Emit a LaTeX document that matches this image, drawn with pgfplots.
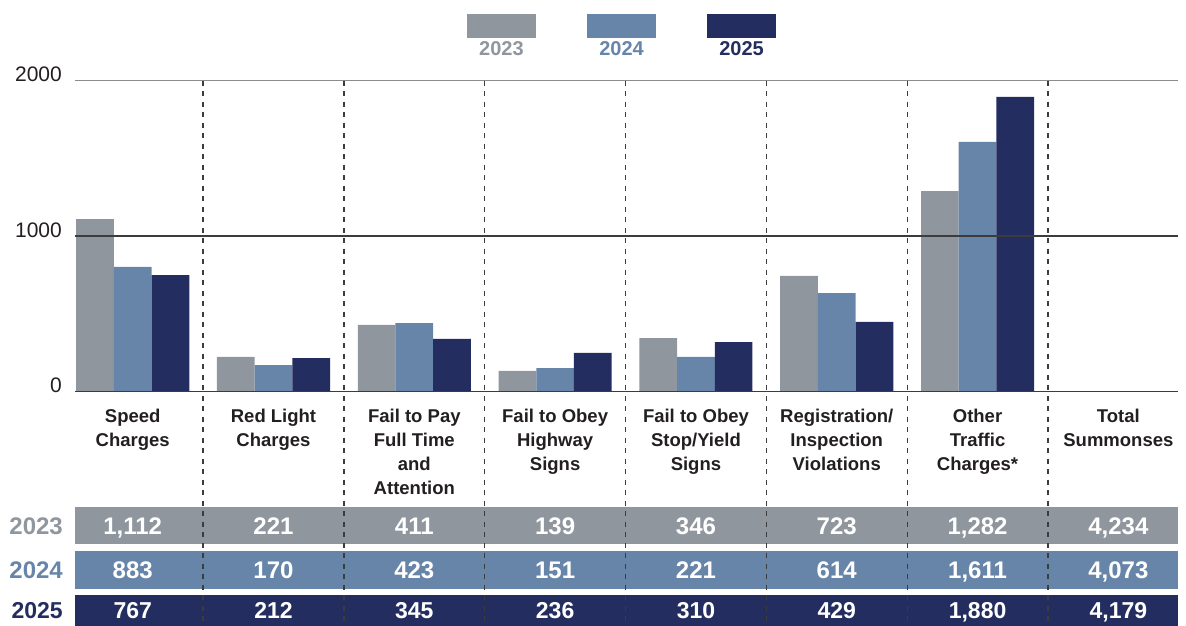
\documentclass[border=0pt]{standalone}
\usepackage{fontspec}
\setmainfont{Liberation Sans}
\usepackage{pgfplots}
\pgfplotsset{compat=1.18}
\definecolor{c23}{RGB}{143,150,158}
\definecolor{c24}{RGB}{103,133,168}
\definecolor{c25}{RGB}{35,45,96}
\definecolor{txt}{RGB}{35,31,32}
\definecolor{gridd}{RGB}{60,60,60}
\definecolor{gridl}{RGB}{140,140,140}
\newcommand\rowvals[4]{%
  \node[anchor=base, inner sep=0pt, text=white, font=\bfseries\fontsize{24}{24}\selectfont] at (axis cs:#1,-916.4) {#2};
  \node[anchor=base, inner sep=0pt, text=white, font=\bfseries\fontsize{24}{24}\selectfont] at (axis cs:#1,-1201.3) {#3};
  \node[anchor=base, inner sep=0pt, text=white, font=\bfseries\fontsize{23}{23}\selectfont] at (axis cs:#1,-1460) {#4};
}
\begin{document}
\begin{tikzpicture}
\useasboundingbox (0,0) rectangle (1186pt,625pt);
\clip (0,0) rectangle (1186pt,625pt);
\begin{axis}[
  at={(75pt,233.5pt)}, anchor=south west,
  scale only axis, width=1102.7pt, height=311pt,
  xmin=-0.4098, xmax=7.4219, ymin=0, ymax=2000,
  clip=false,
  axis line style={draw=none},
  major tick length=0pt,
  ytick={0,1000,2000},
  yticklabels={0,1000,2000},
  yticklabel style={anchor=base east, inner sep=0pt, xshift=-13pt, yshift=-1pt,
    font=\fontsize{21}{21}\selectfont, text=txt},
  xtick={0,1,2,3,4,5,6,7},
  xticklabels={{Speed\\Charges},{Red Light\\Charges},{Fail to Pay\\Full Time\\and\\Attention},
    {Fail to Obey\\Highway\\Signs},{Fail to Obey\\Stop/Yield\\Signs},
    {Registration/\\Inspection\\Violations},{Other\\Traffic\\Charges*},{Total\\Summonses}},
  xticklabel style={anchor=north, align=center, inner sep=0pt, yshift=-17.5pt,
    font=\bfseries\fontsize{18.5}{24}\selectfont, text=txt},
  ybar=0pt, bar width=37.7pt,
]
% table rows
\fill[c23] (axis cs:-0.4098,-740.8) rectangle (axis cs:7.4219,-982.6);
\fill[c24] (axis cs:-0.4098,-1025.7) rectangle (axis cs:7.4219,-1270.1);
\fill[c25] (axis cs:-0.4098,-1308.7) rectangle (axis cs:7.4219,-1600);

\addplot[fill=c23, draw=none] coordinates {(0,1109) (1,222) (2,428) (3,132) (4,344) (5,743) (6,1289)};
\addplot[fill=c24, draw=none] coordinates {(0,801) (1,170) (2,440) (3,151) (4,222) (5,633) (6,1605)};
\addplot[fill=c25, draw=none] coordinates {(0,749) (1,215) (2,338) (3,248) (4,318) (5,447) (6,1894)};

% gridlines
\draw[gridl, line width=1.8pt] (axis cs:-0.4098,2000) -- (axis cs:7.4219,2000);
\draw[gridd, line width=1.3pt] (axis cs:-0.4098,1000) -- (axis cs:7.4219,1000);
\draw[gridd, line width=1.5pt] (axis cs:-0.4098,0) -- (axis cs:7.4219,0);

% column separators
\pgfplotsinvokeforeach{0.5,1.5,2.5,3.5,4.5,5.5,6.5}{
  \draw[gridd, line width=1.3pt, dash pattern=on 5pt off 5.5pt] (axis cs:#1,2000) -- (axis cs:#1,-1600);
}

% legend
\fill[c23] (axis cs:2.374,2427.7) rectangle (axis cs:2.864,2275.2);
\fill[c24] (axis cs:3.227,2427.7) rectangle (axis cs:3.717,2275.2);
\fill[c25] (axis cs:4.079,2427.7) rectangle (axis cs:4.569,2275.2);
\node[anchor=base, inner sep=0pt, text=c23, font=\bfseries\fontsize{20}{20}\selectfont] at (axis cs:2.619,2157.6) {2023};
\node[anchor=base, inner sep=0pt, text=c24, font=\bfseries\fontsize{20}{20}\selectfont] at (axis cs:3.472,2157.6) {2024};
\node[anchor=base, inner sep=0pt, text=c25, font=\bfseries\fontsize{20}{20}\selectfont] at (axis cs:4.324,2157.6) {2025};

% row year labels
\node[anchor=base east, inner sep=0pt, text=c23, font=\bfseries\fontsize{24}{24}\selectfont] at (axis cs:-0.495,-916.4) {2023};
\node[anchor=base east, inner sep=0pt, text=c24, font=\bfseries\fontsize{24}{24}\selectfont] at (axis cs:-0.495,-1201.3) {2024};
\node[anchor=base east, inner sep=0pt, text=c25, font=\bfseries\fontsize{23}{23}\selectfont] at (axis cs:-0.495,-1460) {2025};

% row values
\rowvals{0}{1,112}{883}{767}
\rowvals{1}{221}{170}{212}
\rowvals{2}{411}{423}{345}
\rowvals{3}{139}{151}{236}
\rowvals{4}{346}{221}{310}
\rowvals{5}{723}{614}{429}
\rowvals{6}{1,282}{1,611}{1,880}
\rowvals{7}{4,234}{4,073}{4,179}
\end{axis}
\end{tikzpicture}
\end{document}
